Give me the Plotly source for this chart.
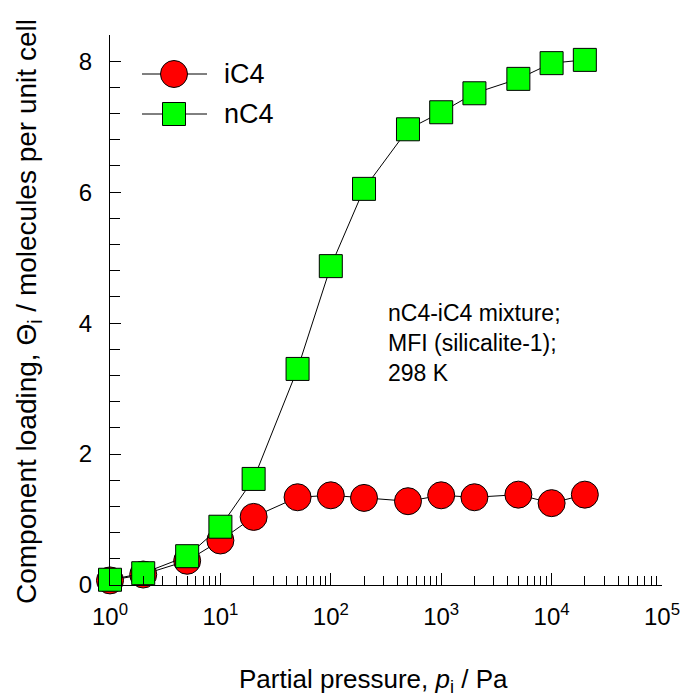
import plotly.graph_objects as go

pressure = [1, 2, 5, 10, 20, 50, 100, 200, 500, 1000, 2000, 5000, 10000, 20000]
iC4 = [0.07, 0.16, 0.37, 0.68, 1.04, 1.34, 1.37, 1.33, 1.28, 1.37, 1.34, 1.38, 1.25, 1.38]
nC4 = [0.08, 0.18, 0.44, 0.89, 1.62, 3.30, 4.87, 6.05, 6.96, 7.22, 7.51, 7.73, 7.97, 8.02]

x_major = [1, 10, 100, 1000, 10000, 100000]
x_major_text = ["10<sup>0</sup>", "10<sup>1</sup>", "10<sup>2</sup>", "10<sup>3</sup>",
                "10<sup>4</sup>", "10<sup>5</sup>"]
x_minor = [m * d for d in [1, 10, 100, 1000, 10000] for m in range(2, 10)]
y_major = [0, 2, 4, 6, 8]

FONT = "Liberation Sans, Arial, sans-serif"
W, H = 686, 698
L, R, T, B = 110, 24, 35, 113
PW, PH = W - L - R, H - T - B

def px(xp):
    return (xp - L) / PW

def py(yp):
    return (H - B - yp) / PH

fig = go.Figure()
fig.add_trace(go.Scatter(
    x=pressure, y=iC4, mode="lines+markers", name="iC4",
    line=dict(color="black", width=1),
    marker=dict(symbol="circle", size=27, color="#FF0000", line=dict(color="black", width=1)),
    showlegend=False, cliponaxis=False))
fig.add_trace(go.Scatter(
    x=pressure, y=nC4, mode="lines+markers", name="nC4",
    line=dict(color="black", width=1),
    marker=dict(symbol="square", size=23, color="#00FF00", line=dict(color="black", width=1)),
    showlegend=False, cliponaxis=False))

shapes = []
annotations = []
# manual legend
for (yy, label, kind, color, size) in [(74, "iC4", "circle", "#FF0000", 27), (114, "nC4", "rect", "#00FF00", 23)]:
    shapes.append(dict(type="line", xref="paper", yref="paper",
                       x0=px(142), x1=px(207), y0=py(yy), y1=py(yy),
                       line=dict(color="black", width=1)))
    h = size / 2
    shapes.append(dict(type=kind, xref="paper", yref="paper",
                       xsizemode="pixel", ysizemode="pixel",
                       xanchor=px(174), yanchor=py(yy),
                       x0=-h, x1=h, y0=-h, y1=h,
                       fillcolor=color, line=dict(color="black", width=1)))
    annotations.append(dict(text=label, xref="paper", yref="paper",
                            x=px(222), y=py(yy), xanchor="left", yanchor="middle",
                            showarrow=False, font=dict(family=FONT, size=27, color="black")))

annotations.append(dict(text="nC4-iC4 mixture;<br>MFI (silicalite-1);<br>298 K",
                        xref="paper", yref="paper", x=px(386), y=py(343),
                        xanchor="left", yanchor="middle", align="left",
                        showarrow=False, font=dict(family=FONT, size=23, color="black")))

# axis titles
annotations.append(dict(text="Partial pressure, <i>p</i><sub>i</sub> / Pa",
                        xref="paper", yref="paper", x=px(373), y=py(680),
                        xanchor="center", yanchor="middle", showarrow=False,
                        font=dict(family=FONT, size=26, color="black")))
annotations.append(dict(text="Component loading, Θ<sub>i</sub> / molecules per unit cell",
                        xref="paper", yref="paper", x=px(28), y=py(312),
                        xanchor="center", yanchor="middle", showarrow=False, textangle=-90,
                        font=dict(family=FONT, size=28, color="black")))

fig.update_layout(
    width=W, height=H,
    margin=dict(l=L, r=R, t=T, b=B, pad=0, autoexpand=False),
    paper_bgcolor="white", plot_bgcolor="white",
    font=dict(family=FONT, color="black"),
    shapes=shapes, annotations=annotations,
    showlegend=False,
    xaxis=dict(type="log", range=[0, 5], showgrid=False, zeroline=False, automargin=False,
               showline=True, linecolor="black", linewidth=1,
               ticks="inside", ticklen=12, tickwidth=1, tickcolor="black",
               tickmode="array", tickvals=x_major, ticktext=x_major_text,
               tickfont=dict(family=FONT, size=24, color="black"),
               ticklabelstandoff=10,
               minor=dict(tickmode="array", tickvals=x_minor, ticks="inside",
                          ticklen=9, tickwidth=1, tickcolor="black", showgrid=False)),
    yaxis=dict(range=[0, 8.4], showgrid=False, zeroline=False, automargin=False,
               showline=True, linecolor="black", linewidth=1,
               ticks="inside", ticklen=11, tickwidth=1, tickcolor="black",
               tickmode="array", tickvals=y_major,
               tickfont=dict(family=FONT, size=24, color="black"),
               ticklabelstandoff=12,
               minor=dict(dtick=0.4, tick0=0, ticks="inside", ticklen=10,
                          tickwidth=1, tickcolor="black", showgrid=False)),
)

fig.write_html("out.html", config={"displayModeBar": False},
               post_script="document.body.style.margin='0px';document.body.style.overflow='hidden';")
